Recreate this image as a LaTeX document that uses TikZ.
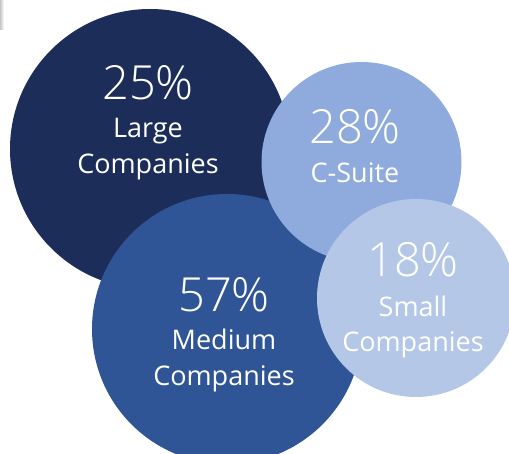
\documentclass[tikz,border=0pt]{standalone}
\usepackage{fontspec}
\setmainfont{Open Sans}
\IfFontExistsTF{Open Sans Light}{\newfontfamily\pctfont{Open Sans Light}}{\newfontfamily\pctfont{Open Sans}}
\definecolor{cLarge}{HTML}{1C2D5A}
\definecolor{cMedium}{HTML}{2F5597}
\definecolor{cSuite}{HTML}{8FAADC}
\definecolor{cSmall}{HTML}{B4C7E7}
\begin{document}
\begin{tikzpicture}[x=1pt,y=-1pt,
  bubble/.style={circle, inner sep=0pt, outer sep=0pt, minimum size=#1},
  pct/.style={anchor=base, text=white, font=\pctfont\fontsize{47}{47}\selectfont, inner sep=0pt},
  lbl/.style={anchor=base, text=white, font=\fontsize{27}{27}\selectfont, inner sep=0pt}]
\useasboundingbox (0,0) rectangle (509,454);
\begin{scope}
\clip (0,0) rectangle (509,454);
\shade[left color=gray!45, right color=white] (0,0) rectangle (4,30);
\node[bubble=280pt, fill=cLarge] (large) at (150,149) {};
\node[bubble=270pt, fill=cMedium] (medium) at (227,329) {};
\node[bubble=200pt, fill=cSuite] (suite) at (361.5,162) {};
\node[bubble=198pt, fill=cSmall] (small) at (416,298) {};
\end{scope}
\node[pct] (p25) at (148,100) {25\%};
\node[lbl] (l25a) at (148,138) {Large};
\node[lbl] (l25b) at (148,174) {Companies};
\node[pct] (p28) at (355,144) {28\%};
\node[lbl] (l28) at (355,183) {C-Suite};
\node[pct] (p57) at (224,312) {57\%};
\node[lbl] (l57a) at (224,350) {Medium};
\node[lbl] (l57b) at (224,385) {Companies};
\node[pct] (p18) at (413,277) {18\%};
\node[lbl] (l18a) at (413,317) {Small};
\node[lbl] (l18b) at (413,352) {Companies};
\end{tikzpicture}
\end{document}
